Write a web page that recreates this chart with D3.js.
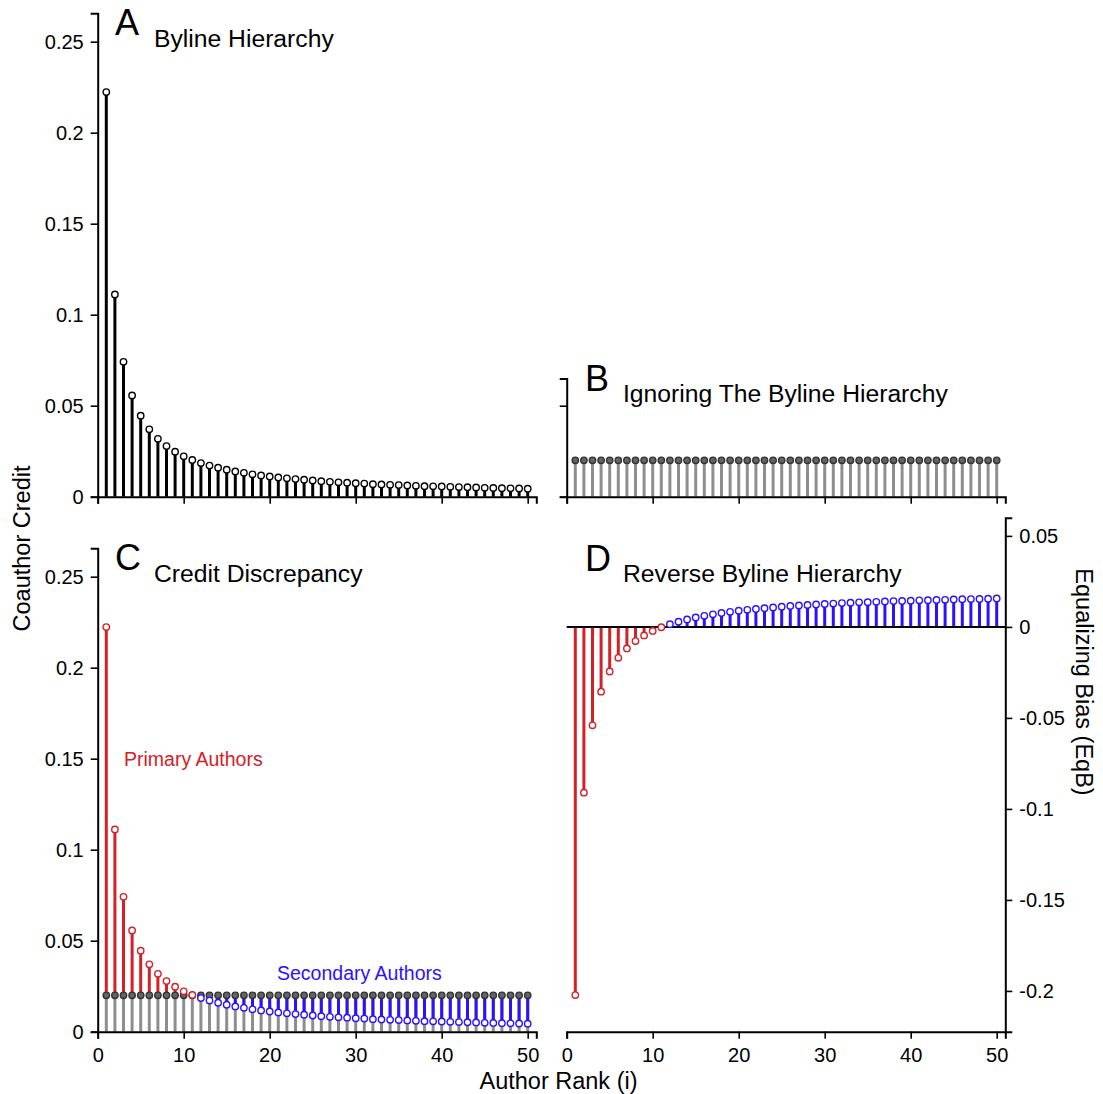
<!DOCTYPE html>
<html><head><meta charset="utf-8">
<script src="https://cdn.jsdelivr.net/npm/d3@7"></script>
<style>
body{margin:0;background:#fff;}
text{font-family:"Liberation Sans",Arial,sans-serif;}
</style></head>
<body><svg id="c" width="1103" height="1094"></svg>
<script>
const ranks = [1,2,3,4,5,6,7,8,9,10,11,12,13,14,15,16,17,18,19,20,21,22,23,24,25,26,27,28,29,30,31,32,33,34,35,36,37,38,39,40,41,42,43,44,45,46,47,48,49,50];
const bylineCredit = [0.2223,0.1111,0.0741,0.0556,0.0445,0.0370,0.0318,0.0278,0.0247,0.0222,0.0202,0.0185,0.0171,0.0159,0.0148,0.0139,0.0131,0.0123,0.0117,0.0111,0.0106,0.0101,0.0097,0.0093,0.0089,0.0085,0.0082,0.0079,0.0077,0.0074,0.0072,0.0069,0.0067,0.0065,0.0064,0.0062,0.0060,0.0058,0.0057,0.0056,0.0054,0.0053,0.0052,0.0051,0.0049,0.0048,0.0047,0.0046,0.0045,0.0044];
const equalCredit = [0.02,0.02,0.02,0.02,0.02,0.02,0.02,0.02,0.02,0.02,0.02,0.02,0.02,0.02,0.02,0.02,0.02,0.02,0.02,0.02,0.02,0.02,0.02,0.02,0.02,0.02,0.02,0.02,0.02,0.02,0.02,0.02,0.02,0.02,0.02,0.02,0.02,0.02,0.02,0.02,0.02,0.02,0.02,0.02,0.02,0.02,0.02,0.02,0.02,0.02];
const eqBias = [-0.2023,-0.0911,-0.0541,-0.0356,-0.0245,-0.0170,-0.0118,-0.0078,-0.0047,-0.0022,-0.0002,0.0015,0.0029,0.0041,0.0052,0.0061,0.0069,0.0077,0.0083,0.0089,0.0094,0.0099,0.0103,0.0107,0.0111,0.0115,0.0118,0.0121,0.0123,0.0126,0.0128,0.0131,0.0133,0.0135,0.0136,0.0138,0.0140,0.0142,0.0143,0.0144,0.0146,0.0147,0.0148,0.0149,0.0151,0.0152,0.0153,0.0154,0.0155,0.0156];
const rankTicks = [0,10,20,30,40,50];
const rankTickLabels = ["0","10","20","30","40","50"];
const creditTicks = [0,0.05,0.1,0.15,0.2,0.25];
const creditTickLabels = ["0","0.05","0.1","0.15","0.2","0.25"];
const biasTicks = [0.05,0,-0.05,-0.1,-0.15,-0.2];
const biasTickLabels = ["0.05","0","-0.05","-0.1","-0.15","-0.2"];
const panelLetters = ["A","B","C","D"];
const panelTitles = ["Byline Hierarchy","Ignoring The Byline Hierarchy","Credit Discrepancy","Reverse Byline Hierarchy"];
const groupLabels = ["Primary Authors","Secondary Authors"];
const axisTitles = ["Coauthor Credit","Equalizing Bias (EqB)","Author Rank (i)"];

const RED="#d42026", BLUE="#2b12ff", GRAY="#8e8e8e", DGRAY="#646464";
const svg = d3.select("#c");
svg.append("rect").attr("width",1103).attr("height",1094).attr("fill","#fff");

const xL = d3.scaleLinear().domain([0,51]).range([97.7,536.3]);
const xR = d3.scaleLinear().domain([0,51]).range([566.7,1005.3]);
const yA = d3.scaleLinear().domain([0,0.2656]).range([496.7,13.3]);
const yB = d3.scaleLinear().domain([0,0.065]).range([496.7,378.4]);
const yC = d3.scaleLinear().domain([0,0.2656]).range([1031.7,548.3]);
const yD = d3.scaleLinear().domain([-0.2224,0.06]).range([1031.7,517.7]);

function styleAxis(g, fs){
  g.select(".domain").attr("stroke","#000").attr("stroke-width",2);
  g.selectAll(".tick line").attr("stroke","#000").attr("stroke-width",1.6);
  g.selectAll(".tick text").attr("font-size",fs).attr("fill","#000").attr("font-family","Liberation Sans, Arial, sans-serif");
}
function xAxis(x, y0, labels){
  const ax = d3.axisBottom(x).tickValues(rankTicks).tickSizeOuter(0).tickSize(7).tickPadding(9)
    .tickFormat((d,i)=> labels ? rankTickLabels[i] : "");
  const g = svg.append("g").attr("transform",`translate(0,${y0})`).call(ax);
  styleAxis(g, 20);
}
function yAxisLeft(y, x0, vals, labels){
  const ax = d3.axisLeft(y).tickValues(vals).tickSizeOuter(0).tickSize(7).tickPadding(7)
    .tickFormat((d,i)=> labels ? labels[i] : "");
  const g = svg.append("g").attr("transform",`translate(${x0},0)`).call(ax);
  styleAxis(g, 20);
}

function stems(data, x, y, y0f, y1f, colorf, w){
  svg.append("g").selectAll("line").data(data).join("line")
    .attr("x1",d=>x(d.r)).attr("x2",d=>x(d.r))
    .attr("y1",d=>y(y0f(d))).attr("y2",d=>y(y1f(d)))
    .attr("stroke",colorf).attr("stroke-width",w);
}
function dots(data, x, y, vf, stroke, fill){
  svg.append("g").selectAll("circle").data(data).join("circle")
    .attr("cx",d=>x(d.r)).attr("cy",d=>y(vf(d))).attr("r",3.2)
    .attr("stroke",stroke).attr("stroke-width",1.4).attr("fill",fill);
}
const data = ranks.map((r,i)=>({r, c:bylineCredit[i], u:equalCredit[i], b:eqBias[i]}));

// Panel A
stems(data, xL, yA, d=>0, d=>d.c, "#000", 3);
dots(data, xL, yA, d=>d.c, "#000", "#fff");
xAxis(xL, 496.7, false);
yAxisLeft(yA, 97.7, creditTicks, creditTickLabels);

// Panel B
stems(data, xR, yB, d=>0, d=>d.u, GRAY, 3);
dots(data, xR, yB, d=>d.u, "#333", DGRAY);
xAxis(xR, 496.7, false);
yAxisLeft(yB, 566.7, [0,0.05], null);

// Panel C
stems(data, xL, yC, d=>0, d=>d.u, GRAY, 3);
stems(data, xL, yC, d=>d.u, d=>d.c, d=> d.c>d.u ? RED : BLUE, 3);
dots(data, xL, yC, d=>d.u, "#333", DGRAY);
dots(data, xL, yC, d=>d.c, d=> d.c>d.u ? RED : BLUE, "#fff");
xAxis(xL, 1031.7, true);
yAxisLeft(yC, 97.7, creditTicks, creditTickLabels);

// Panel D
stems(data, xR, yD, d=>0, d=>d.b, d=> d.b<0 ? RED : BLUE, 3);
svg.append("line").attr("x1",xR(0)).attr("x2",xR(51)).attr("y1",yD(0)).attr("y2",yD(0))
  .attr("stroke","#000").attr("stroke-width",2);
dots(data, xR, yD, d=>d.b, d=> d.b<0 ? RED : BLUE, "#fff");
xAxis(xR, 1031.7, true);
{
  const ax = d3.axisRight(yD).tickValues(biasTicks).tickSizeOuter(0).tickSize(7).tickPadding(7)
    .tickFormat((d,i)=>biasTickLabels[i]);
  const g = svg.append("g").attr("transform",`translate(1005.3,0)`).call(ax);
  styleAxis(g, 20);
}

// Titles
const letterPos = [[115,35],[585,391],[115,570],[585,571]];
const titlePos = [[154,47],[623,402],[154,582],[623,582]];
panelLetters.forEach((t,i)=>{
  svg.append("text").attr("x",letterPos[i][0]).attr("y",letterPos[i][1]).attr("font-size",36).text(t);
  svg.append("text").attr("x",titlePos[i][0]).attr("y",titlePos[i][1]).attr("font-size",24.7).text(panelTitles[i]);
});
svg.append("text").attr("x",124).attr("y",766).attr("font-size",19.5).attr("fill",RED).text(groupLabels[0]);
svg.append("text").attr("x",277).attr("y",979.5).attr("font-size",19.5).attr("fill",BLUE).text(groupLabels[1]);

svg.append("text").attr("transform","translate(30,548.5) rotate(-90)").attr("text-anchor","middle")
  .attr("font-size",23.5).text(axisTitles[0]);
svg.append("text").attr("transform","translate(1076,682) rotate(90)").attr("text-anchor","middle")
  .attr("font-size",23.5).text(axisTitles[1]);
svg.append("text").attr("x",558.5).attr("y",1089).attr("text-anchor","middle")
  .attr("font-size",23.5).text(axisTitles[2]);
</script></body></html>
